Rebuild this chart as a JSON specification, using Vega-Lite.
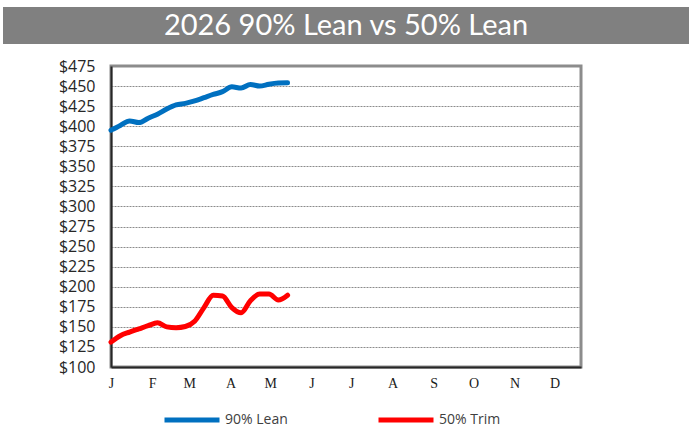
{
  "$schema": "https://vega.github.io/schema/vega-lite/v6.json",
  "padding": {"left": 3, "top": 7, "right": 0, "bottom": 0},
  "background": "white",
  "spacing": 22,
  "center": true,
  "bounds": "flush",
  "config": {
    "view": {"stroke": null},
    "legend": {"labelFont": "Open Sans", "labelFontSize": 14, "labelColor": "#404040", "labelOffset": 3, "labelLimit": 300}
  },
  "vconcat": [
    {
      "width": 686,
      "height": 37,
      "view": {"fill": "#808080", "stroke": null},
      "data": {"values": [{"title": "2026 90% Lean vs 50% Lean"}]},
      "mark": {"type": "text", "color": "white", "font": "Lato", "fontSize": 29, "baseline": "middle", "align": "center"},
      "encoding": {"text": {"field": "title"}}
    },
    {
      "width": 470,
      "height": 301,
      "view": {"stroke": "#8C8C8C", "strokeWidth": 3},
      "data": {"values": [
        {"date": "2026-01-01T00:00:00", "series": "90% Lean", "price": 395},
        {"date": "2026-01-08T00:00:00", "series": "90% Lean", "price": 401},
        {"date": "2026-01-15T00:00:00", "series": "90% Lean", "price": 406.5},
        {"date": "2026-01-22T00:00:00", "series": "90% Lean", "price": 404.5},
        {"date": "2026-01-29T00:00:00", "series": "90% Lean", "price": 410},
        {"date": "2026-02-05T00:00:00", "series": "90% Lean", "price": 415},
        {"date": "2026-02-12T00:00:00", "series": "90% Lean", "price": 421.5},
        {"date": "2026-02-19T00:00:00", "series": "90% Lean", "price": 426.5},
        {"date": "2026-02-26T00:00:00", "series": "90% Lean", "price": 428.5},
        {"date": "2026-03-05T00:00:00", "series": "90% Lean", "price": 431.5},
        {"date": "2026-03-12T00:00:00", "series": "90% Lean", "price": 435.5},
        {"date": "2026-03-19T00:00:00", "series": "90% Lean", "price": 439.5},
        {"date": "2026-03-26T00:00:00", "series": "90% Lean", "price": 443},
        {"date": "2026-04-02T00:00:00", "series": "90% Lean", "price": 449},
        {"date": "2026-04-09T00:00:00", "series": "90% Lean", "price": 447.5},
        {"date": "2026-04-16T00:00:00", "series": "90% Lean", "price": 452},
        {"date": "2026-04-23T00:00:00", "series": "90% Lean", "price": 450},
        {"date": "2026-04-30T00:00:00", "series": "90% Lean", "price": 452.3},
        {"date": "2026-05-07T00:00:00", "series": "90% Lean", "price": 453.7},
        {"date": "2026-05-14T00:00:00", "series": "90% Lean", "price": 454},
        {"date": "2026-01-01T00:00:00", "series": "50% Trim", "price": 131},
        {"date": "2026-01-08T00:00:00", "series": "50% Trim", "price": 139},
        {"date": "2026-01-15T00:00:00", "series": "50% Trim", "price": 143.5},
        {"date": "2026-01-22T00:00:00", "series": "50% Trim", "price": 147.5},
        {"date": "2026-01-29T00:00:00", "series": "50% Trim", "price": 151.5},
        {"date": "2026-02-05T00:00:00", "series": "50% Trim", "price": 155},
        {"date": "2026-02-12T00:00:00", "series": "50% Trim", "price": 150},
        {"date": "2026-02-19T00:00:00", "series": "50% Trim", "price": 149},
        {"date": "2026-02-26T00:00:00", "series": "50% Trim", "price": 150.5},
        {"date": "2026-03-05T00:00:00", "series": "50% Trim", "price": 157},
        {"date": "2026-03-12T00:00:00", "series": "50% Trim", "price": 174},
        {"date": "2026-03-19T00:00:00", "series": "50% Trim", "price": 189.5},
        {"date": "2026-03-26T00:00:00", "series": "50% Trim", "price": 188.5},
        {"date": "2026-04-02T00:00:00", "series": "50% Trim", "price": 174},
        {"date": "2026-04-09T00:00:00", "series": "50% Trim", "price": 167.5},
        {"date": "2026-04-16T00:00:00", "series": "50% Trim", "price": 182.5},
        {"date": "2026-04-23T00:00:00", "series": "50% Trim", "price": 190.8},
        {"date": "2026-04-30T00:00:00", "series": "50% Trim", "price": 190.8},
        {"date": "2026-05-07T00:00:00", "series": "50% Trim", "price": 183.5},
        {"date": "2026-05-14T00:00:00", "series": "50% Trim", "price": 189.5}
      ]},
      "mark": {"type": "line", "strokeWidth": 5, "strokeCap": "round", "strokeJoin": "round", "interpolate": "monotone"},
      "encoding": {
        "x": {
          "field": "date", "type": "temporal", "title": null,
          "scale": {"domain": [{"year": 2026, "month": 1, "date": 1}, {"year": 2026, "month": 12, "date": 21}]},
          "axis": {
            "tickCount": {"interval": "month", "step": 1},
            "labelExpr": "substring(timeFormat(datum.value, '%b'), 0, 1)",
            "grid": false, "ticks": false,
            "domainColor": "#262626", "domainWidth": 2,
            "labelFont": "Liberation Serif", "labelFontSize": 14, "labelColor": "#1a1a1a",
            "labelPadding": 9, "labelFlush": false, "labelOverlap": false
          }
        },
        "y": {
          "field": "price", "type": "quantitative", "title": null,
          "scale": {"domain": [100, 475], "nice": false, "zero": false},
          "axis": {
            "values": [100, 125, 150, 175, 200, 225, 250, 275, 300, 325, 350, 375, 400, 425, 450, 475],
            "format": "$d",
            "ticks": false, "labelPadding": 16,
            "domainColor": "#262626", "domainWidth": 2,
            "grid": true, "gridColor": "#8C8C8C", "gridDash": [2, 1], "gridWidth": 1,
            "labelFont": "Open Sans", "labelFontSize": 16, "labelColor": "#262626"
          }
        },
        "color": {
          "field": "series", "type": "nominal", "title": null,
          "scale": {"domain": ["90% Lean", "50% Trim"], "range": ["#0070C0", "#FF0000"]},
          "legend": {
            "orient": "none", "legendX": 159, "legendY": 383,
            "direction": "horizontal", "columns": 2, "columnPadding": 80,
            "symbolType": "stroke", "symbolSize": 3025, "symbolStrokeWidth": 5,
            "labelFont": "Open Sans", "labelFontSize": 14, "labelColor": "#404040", "labelOffset": 3
          }
        }
      }
    }
  ]
}
